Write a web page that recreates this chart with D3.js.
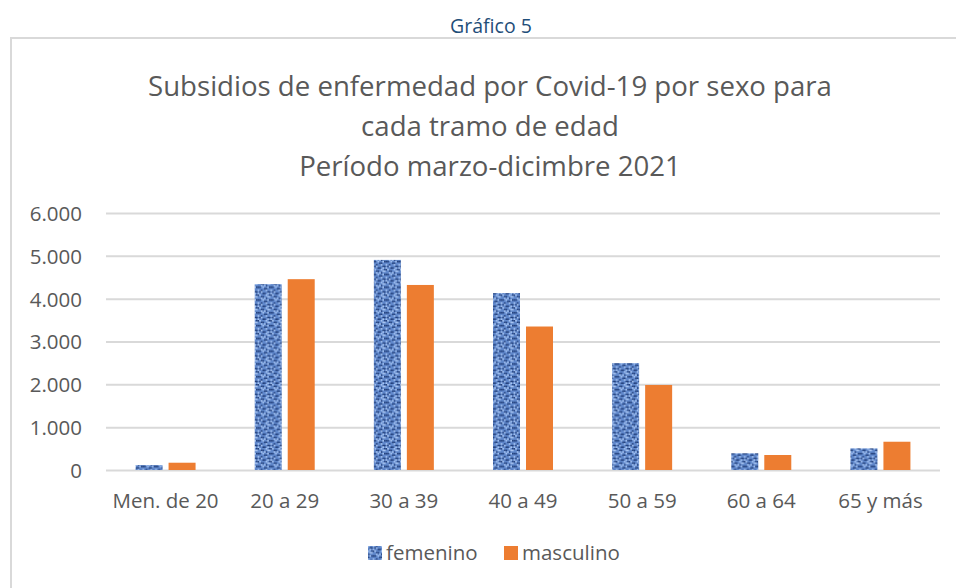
<!DOCTYPE html>
<html><head><meta charset="utf-8">
<script src="https://cdn.jsdelivr.net/npm/d3@7"></script>
<style>body{margin:0;background:#fff}svg{display:block}</style>
</head><body>
<svg id="c" width="956" height="588"></svg>
<script>
const categories = ["Men. de 20","20 a 29","30 a 39","40 a 49","50 a 59","60 a 64","65 y más"];
const femenino = [115, 4340, 4905, 4130, 2495, 390, 505];
const masculino = [170, 4455, 4320, 3350, 1985, 350, 660];
const seriesNames = ["femenino","masculino"];
const yTicks = [0,1000,2000,3000,4000,5000,6000];
const titleLines = ["Subsidios de enfermedad por Covid-19 por sexo para","cada tramo de edad","Período marzo-dicimbre 2021"];

const svg = d3.select("#c");
const font = "'Open Sans', 'Noto Sans', sans-serif";
const grey = "#595959";

// pattern for femenino
const defs = svg.append("defs");
const pat = defs.append("pattern").attr("id","fem").attr("patternUnits","userSpaceOnUse")
  .attr("width",8).attr("height",8).attr("patternTransform","scale(1.6)");
pat.append("rect").attr("width",8).attr("height",8).attr("fill","#6088cc");
const darkPix = [[0,0],[1,0],[3,1],[4,1],[6,2],[0,3],[1,3],[2,3],[5,4],[6,4],[3,5],[0,6],[7,6],[4,7],[5,7],[2,6]];
const lightPix = [[2,0],[6,0],[0,1],[7,1],[3,2],[4,3],[7,3],[1,5],[6,5],[3,6],[1,7],[7,7],[5,2]];
darkPix.forEach(p=>pat.append("rect").attr("x",p[0]).attr("y",p[1]).attr("width",1).attr("height",1).attr("fill","#223f7a"));
lightPix.forEach(p=>pat.append("rect").attr("x",p[0]).attr("y",p[1]).attr("width",1).attr("height",1).attr("fill","#a9c6f2"));

// Header
svg.append("text").attr("x",491).attr("y",33).attr("text-anchor","middle")
  .attr("font-family",font).attr("font-size",19.5).attr("fill","#1f4e79").text("Gráfico 5");

// Frame
svg.append("path").attr("d","M11,600 V38 H960").attr("fill","none").attr("stroke","#d9d9d9").attr("stroke-width",2);

// Title
svg.append("g").selectAll("text").data(titleLines).join("text")
  .attr("x",490).attr("y",(d,i)=>96+i*40).attr("text-anchor","middle")
  .attr("font-family",font).attr("font-size",27.6).attr("fill",grey).text(d=>d);

const x = d3.scaleBand().domain(categories).range([106,940]).paddingInner(0).paddingOuter(0);
const y = d3.scaleLinear().domain([0,6000]).range([470,213]);

// gridlines
const yAxis = d3.axisLeft(y).tickValues(yTicks).tickSize(-(940-106))
  .tickFormat(d=>d===0?"0":d3.format(",")(d).replace(/,/g,"."));
const gy = svg.append("g").attr("transform","translate(106,0)").call(yAxis);
gy.select(".domain").remove();
gy.selectAll(".tick line").attr("stroke","#d9d9d9").attr("stroke-width",2);
gy.selectAll(".tick text").attr("x",-24).attr("dy","0.36em").attr("font-family",font)
  .attr("font-size",20.5).attr("fill",grey);

// bars
const barW = 27, gap = 6;
const data = categories.map((c,i)=>({c, vals:[femenino[i], masculino[i]]}));
const gBars = svg.append("g");
data.forEach(d=>{
  const cx = x(d.c) + x.bandwidth()/2;
  d.vals.forEach((v,j)=>{
    const bx = j===0 ? cx - gap/2 - barW : cx + gap/2;
    gBars.append("rect").attr("x",bx).attr("y",y(v)).attr("width",barW).attr("height",y(0)-y(v))
      .attr("fill", j===0 ? "url(#fem)" : "#ed7d31");
  });
});

// x axis labels
const xAxis = d3.axisBottom(x).tickSize(0);
const gx = svg.append("g").attr("transform","translate(0,470)").call(xAxis);
gx.select(".domain").remove();
gx.selectAll(".tick text").attr("y",38).attr("dy",0).attr("font-family",font)
  .attr("font-size",20.5).attr("fill",grey);

// legend
const leg = svg.append("g");
const legItems = [{n:seriesNames[0], fill:"url(#fem)", sx:368, tx:386},{n:seriesNames[1], fill:"#ed7d31", sx:504, tx:522}];
legItems.forEach(l=>{
  leg.append("rect").attr("x",l.sx).attr("y",546).attr("width",14).attr("height",14).attr("fill",l.fill);
  leg.append("text").attr("x",l.tx).attr("y",560).attr("font-family",font)
    .attr("font-size",20.5).attr("fill",grey).text(l.n);
});
</script>
</body></html>
